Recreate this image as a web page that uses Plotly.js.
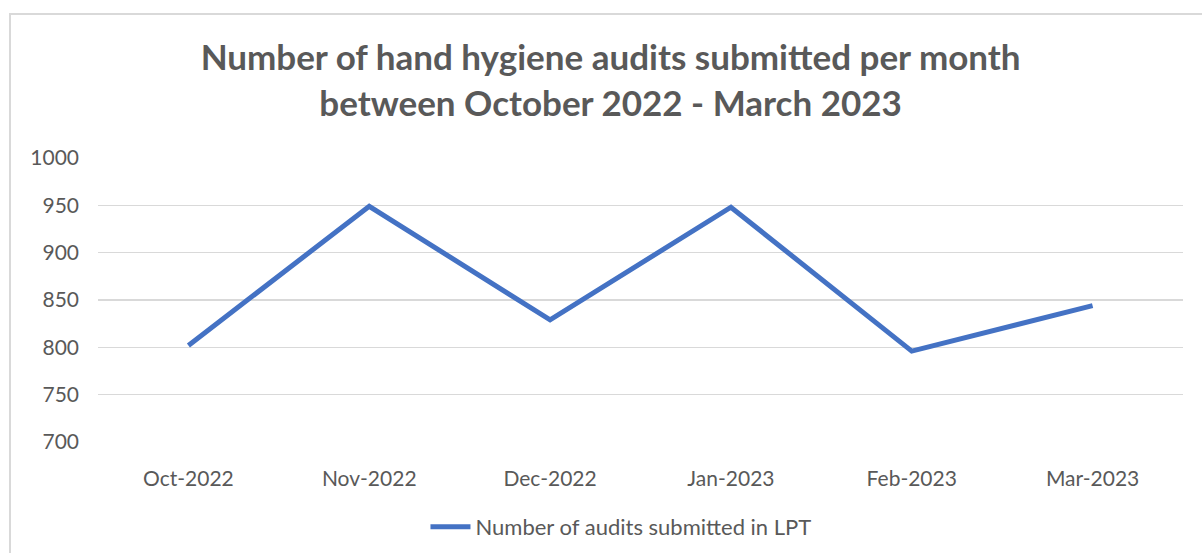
<!DOCTYPE html>
<html>
<head>
<meta charset="utf-8">
<script src="https://cdn.plot.ly/plotly-3.0.1.min.js"></script>
<style>
  html, body { margin: 0; padding: 0; background: #ffffff; }
  #wrap { position: relative; width: 1202px; height: 553px; overflow: hidden; }
  #frame { position: absolute; left: 9px; top: 13px; width: 1300px; height: 700px;
           border-left: 2px solid #d9d9d9; border-top: 2px solid #d9d9d9; pointer-events: none; }
  #chart { position: absolute; left: 0; top: 0; width: 1202px; height: 553px; }
</style>
</head>
<body>
<div id="wrap">
  <div id="chart"></div>
  <div id="frame"></div>
</div>
<script>
const months = ["Oct-2022", "Nov-2022", "Dec-2022", "Jan-2023", "Feb-2023", "Mar-2023"];
const audits = [802, 949, 829, 948, 796, 844];
const seriesName = "Number of audits submitted in LPT";
const yTicks = [700, 750, 800, 850, 900, 950, 1000];

const grey = "#595959";
const fontFam = "Lato, 'Open Sans', sans-serif";

const trace = {
  x: months,
  y: audits,
  type: "scatter",
  mode: "lines",
  name: seriesName,
  line: { color: "#4472C4", width: 5 },
  hoverinfo: "x+y"
};

const layout = {
  width: 1202,
  height: 553,
  margin: { l: 98, r: 19, t: 158, b: 111, pad: 0 },
  paper_bgcolor: "rgba(0,0,0,0)",
  plot_bgcolor: "rgba(0,0,0,0)",
  title: {
    text: "Number of hand hygiene audits submitted per month<br>between October 2022 - March 2023",
    font: { family: fontFam, size: 35, color: grey, weight: "bold" },
    x: 0.508,
    xanchor: "center",
    yref: "container",
    y: 1 - 70 / 553,
    yanchor: "top"
  },
  xaxis: {
    type: "category",
    range: [-0.5, months.length - 0.5],
    showgrid: false,
    showline: false,
    zeroline: false,
    ticks: "",
    tickfont: { family: fontFam, size: 21, color: grey },
    ticklabelstandoff: 22
  },
  yaxis: {
    range: [700, 1000],
    tickvals: yTicks,
    ticktext: yTicks.map(String),
    showgrid: true,
    gridcolor: "#d9d9d9",
    gridwidth: 1.5,
    zeroline: false,
    showline: false,
    ticks: "",
    tickfont: { family: fontFam, size: 21, color: grey },
    ticklabelstandoff: 18
  },
  showlegend: true,
  legend: {
    orientation: "h",
    x: 0.482,
    xanchor: "center",
    yref: "container",
    y: (553 - 527) / 553,
    yanchor: "middle",
    font: { family: fontFam, size: 22, color: grey },
    itemwidth: 40
  }
};

Plotly.newPlot("chart", [trace], layout, { displayModeBar: false, staticPlot: true });
</script>
</body>
</html>
